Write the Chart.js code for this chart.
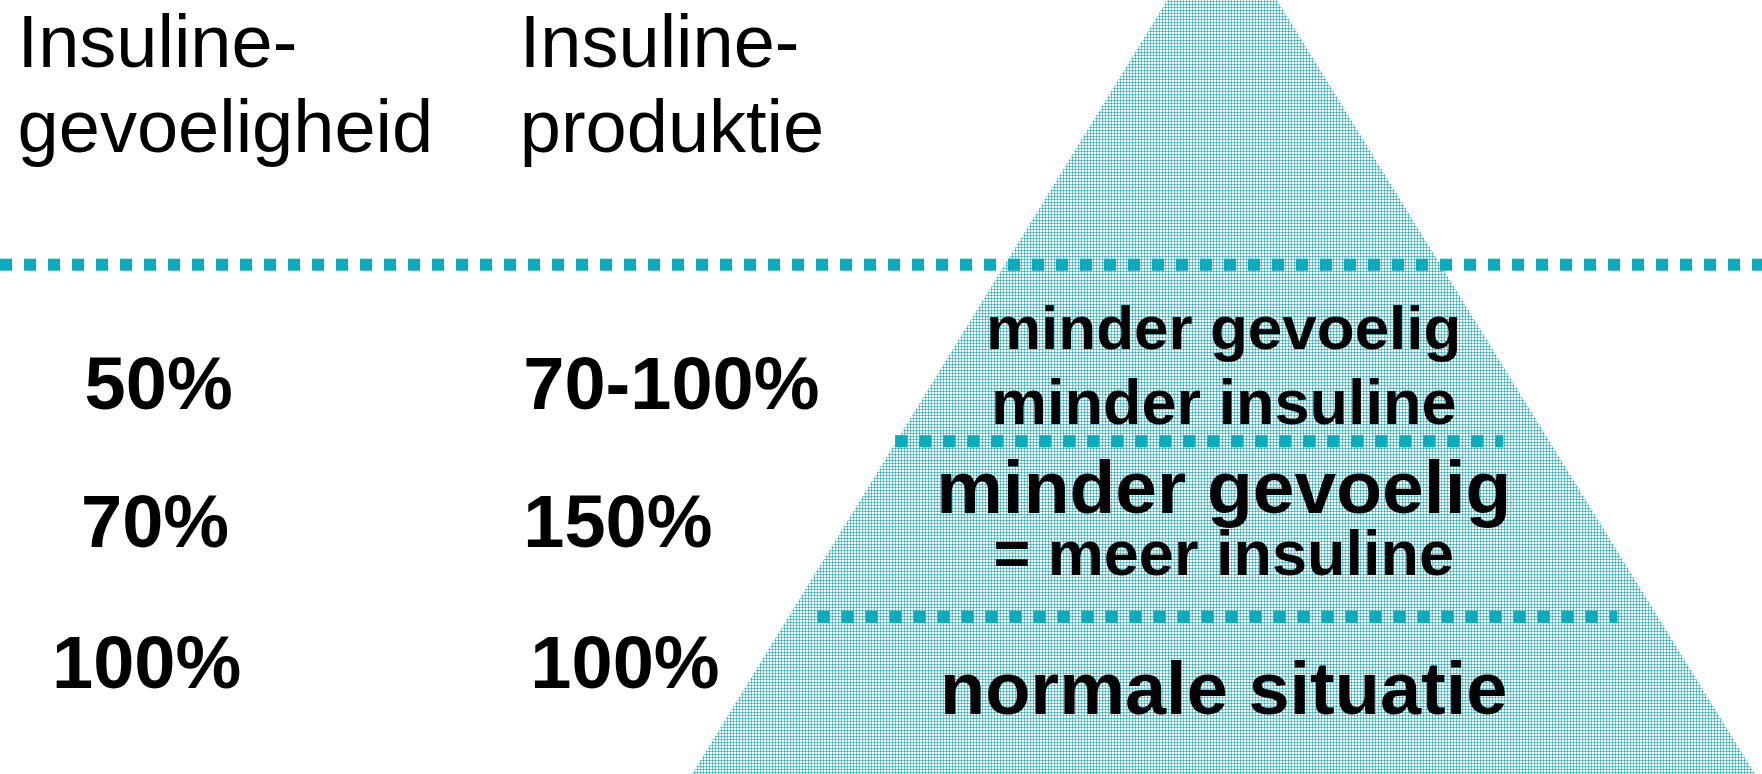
<!DOCTYPE html>
<html lang="nl">
  <head>
    <meta charset="UTF-8" />
    <title>Insulinegevoeligheid en insulineproduktie</title>
    <script src="https://cdn.jsdelivr.net/npm/chart.js@4"></script>
    <style>
      body { margin: 0; background: #fff; }
      canvas { display: block; }
    </style>
  </head>
  <body>
    <canvas id="myChart" width="1762" height="774"></canvas>

    <script>
      // gegevens
      const niveaus = ['normale situatie', 'minder gevoelig\n= meer insuline', 'minder gevoelig\nminder insuline'];
      const gevoeligheid = ['100%', '70%', '50%'];
      const produktie = ['100%', '150%', '70-100%'];
      const kopGevoeligheid = ['Insuline-', 'gevoeligheid'];
      const kopProduktie = ['Insuline-', 'produktie'];

      // piramide (assen 0..100) en scheidingslijnen
      const piramideX = [39.27, 69.35, 99.6];
      const piramideY = [0, 111.5, 0];
      const grensY = [20.3, 43.0, 65.8];
      const grensVan = [46.4, 50.8, 0];
      const grensTot = [91.8, 85.3, 100];

      const teal = 'rgb(10,172,188)';
      const font = '"Liberation Sans", Arial, sans-serif';

      // gestippelde vulling
      function maakPatroon() {
        const c = document.createElement('canvas');
        c.width = 3; c.height = 3;
        const p = c.getContext('2d');
        p.fillStyle = '#ffffff'; p.fillRect(0, 0, 3, 3);
        p.fillStyle = 'rgb(120,205,215)';
        p.fillRect(1, 0, 1, 3);
        p.fillRect(0, 1, 3, 1);
        p.fillStyle = 'rgb(22,172,190)';
        p.fillRect(1, 1, 1, 1);
        return p.createPattern(c, 'repeat');
      }

      // tekstposities (in as-eenheden)
      const kolomX = [[2.95, 4.6, 4.8], [30.1, 29.7, 29.7]];
      const rijY = [11.1, 29.3, 47.2];
      const kopX = [1.0, 29.5];
      const kopY = [91.3, 80.4];
      const labelX = 69.45;
      const labelY = [[7.75], [33.7, 25.7], [54.9, 45.2]];
      const labelSize = [[74], [75, 63], [62, 63]];

      const tekstPlugin = {
        id: 'teksten',
        afterDatasetsDraw(chart) {
          const ctx = chart.ctx;
          const xs = chart.scales.x, ys = chart.scales.y;
          ctx.save();
          ctx.fillStyle = '#000';
          ctx.textBaseline = 'alphabetic';

          // koppen
          ctx.textAlign = 'left';
          ctx.font = '74px ' + font;
          [kopGevoeligheid, kopProduktie].forEach((kop, k) => {
            kop.forEach((t, i) => ctx.fillText(t, xs.getPixelForValue(kopX[k]), ys.getPixelForValue(kopY[i])));
          });

          // percentages
          ctx.font = 'bold 74px ' + font;
          [gevoeligheid, produktie].forEach((kol, k) => {
            kol.forEach((t, i) => ctx.fillText(t, xs.getPixelForValue(kolomX[k][i]), ys.getPixelForValue(rijY[i])));
          });

          // labels in de piramide
          ctx.textAlign = 'center';
          niveaus.forEach((label, i) => {
            label.split('\n').forEach((regel, j) => {
              ctx.font = 'bold ' + labelSize[i][j] + 'px ' + font;
              ctx.fillText(regel, xs.getPixelForValue(labelX), ys.getPixelForValue(labelY[i][j]));
            });
          });
          ctx.restore();
        }
      };

      const datasets = [{
        data: piramideX.map((x, i) => ({ x, y: piramideY[i] })),
        fill: 'origin',
        backgroundColor: maakPatroon(),
        borderWidth: 0,
        pointRadius: 0,
        order: 2
      }];
      grensY.forEach((y, i) => {
        datasets.push({
          data: [{ x: grensVan[i], y }, { x: grensTot[i], y }],
          fill: false,
          borderColor: teal,
          borderWidth: 12,
          borderDash: [12, 12],
          borderCapStyle: 'butt',
          pointRadius: 0,
          order: 1
        });
      });

      new Chart(document.getElementById('myChart'), {
        type: 'line',
        data: { datasets },
        options: {
          responsive: false,
          animation: false,
          layout: { padding: 0 },
          plugins: { legend: { display: false }, tooltip: { enabled: false } },
          scales: {
            x: { type: 'linear', min: 0, max: 100, display: false },
            y: { type: 'linear', min: 0, max: 100, display: false }
          }
        },
        plugins: [tekstPlugin]
      });
    </script>
  </body>
</html>
